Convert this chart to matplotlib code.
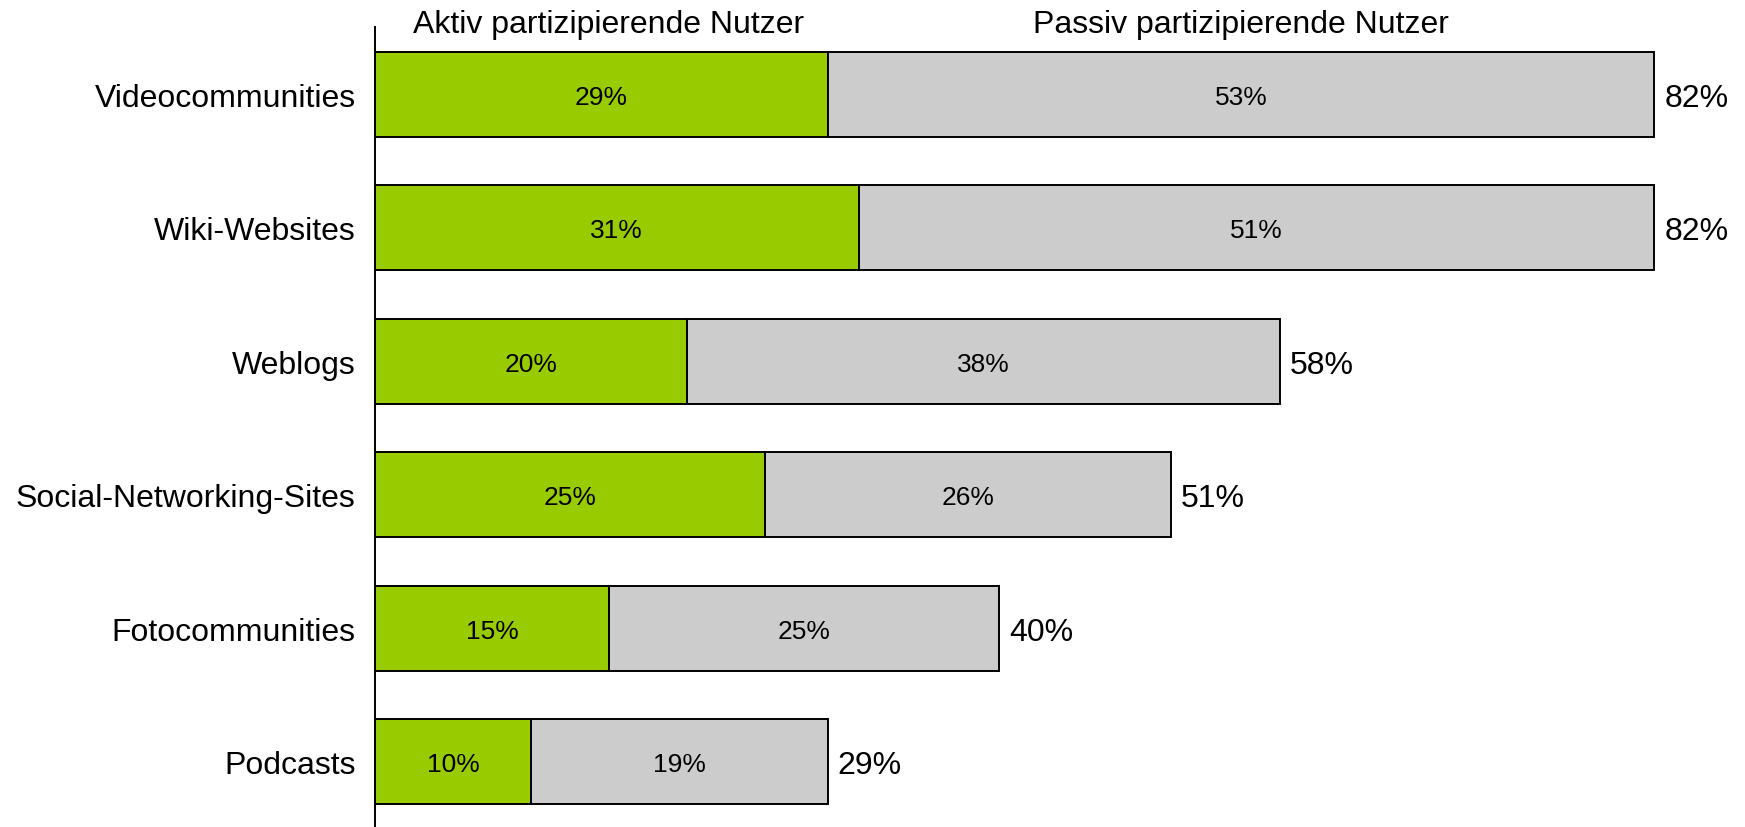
import matplotlib
matplotlib.use("Agg")
import matplotlib.pyplot as plt

plt.rcParams['font.family'] = ['Liberation Sans', 'DejaVu Sans']

kategorien = ["Videocommunities", "Wiki-Websites", "Weblogs",
              "Social-Networking-Sites", "Fotocommunities", "Podcasts"]
aktiv = [29, 31, 20, 25, 15, 10]
passiv = [53, 51, 38, 26, 25, 19]
gesamt = [82, 82, 58, 51, 40, 29]
kopf = ["Aktiv partizipierende Nutzer", "Passiv partizipierende Nutzer"]

fig = plt.figure(figsize=(17.45, 8.28), dpi=100)
ax = fig.add_axes([375/1745, 0, 1 - 375/1745, 1 - 28/828])

y = list(range(len(kategorien)))[::-1]
ax.barh(y, aktiv, height=0.635, color="#99CC00", edgecolor="black", linewidth=1.4)
ax.barh(y, passiv, left=aktiv, height=0.635, color="#CCCCCC", edgecolor="black", linewidth=1.4)

for yi, a, p, g in zip(y, aktiv, passiv, gesamt):
    ax.text(a / 2, yi, f"{a}%", ha="center", va="center_baseline", fontsize=19)
    ax.text(a + p / 2, yi, f"{p}%", ha="center", va="center_baseline", fontsize=19)
    ax.text(g + 0.65, yi, f"{g}%", ha="left", va="center_baseline", fontsize=23)

ax.set_xlim(0, 87.8)
ax.set_ylim(-0.49, 5.505)
ax.text(aktiv[0] / 2 + 0.5, 5.525, kopf[0], ha="center", va="center", fontsize=23, clip_on=False)
ax.text(aktiv[0] + passiv[0] / 2, 5.525, kopf[1], ha="center", va="center", fontsize=23, clip_on=False)

ax.set_yticks(y)
ax.set_yticklabels(kategorien, fontsize=23)
ax.tick_params(axis="y", length=0, pad=14)
ax.set_xticks([])
for s in ["top", "right", "bottom"]:
    ax.spines[s].set_visible(False)
ax.spines["left"].set_linewidth(1.4)

fig.savefig("out.png", dpi=100)
